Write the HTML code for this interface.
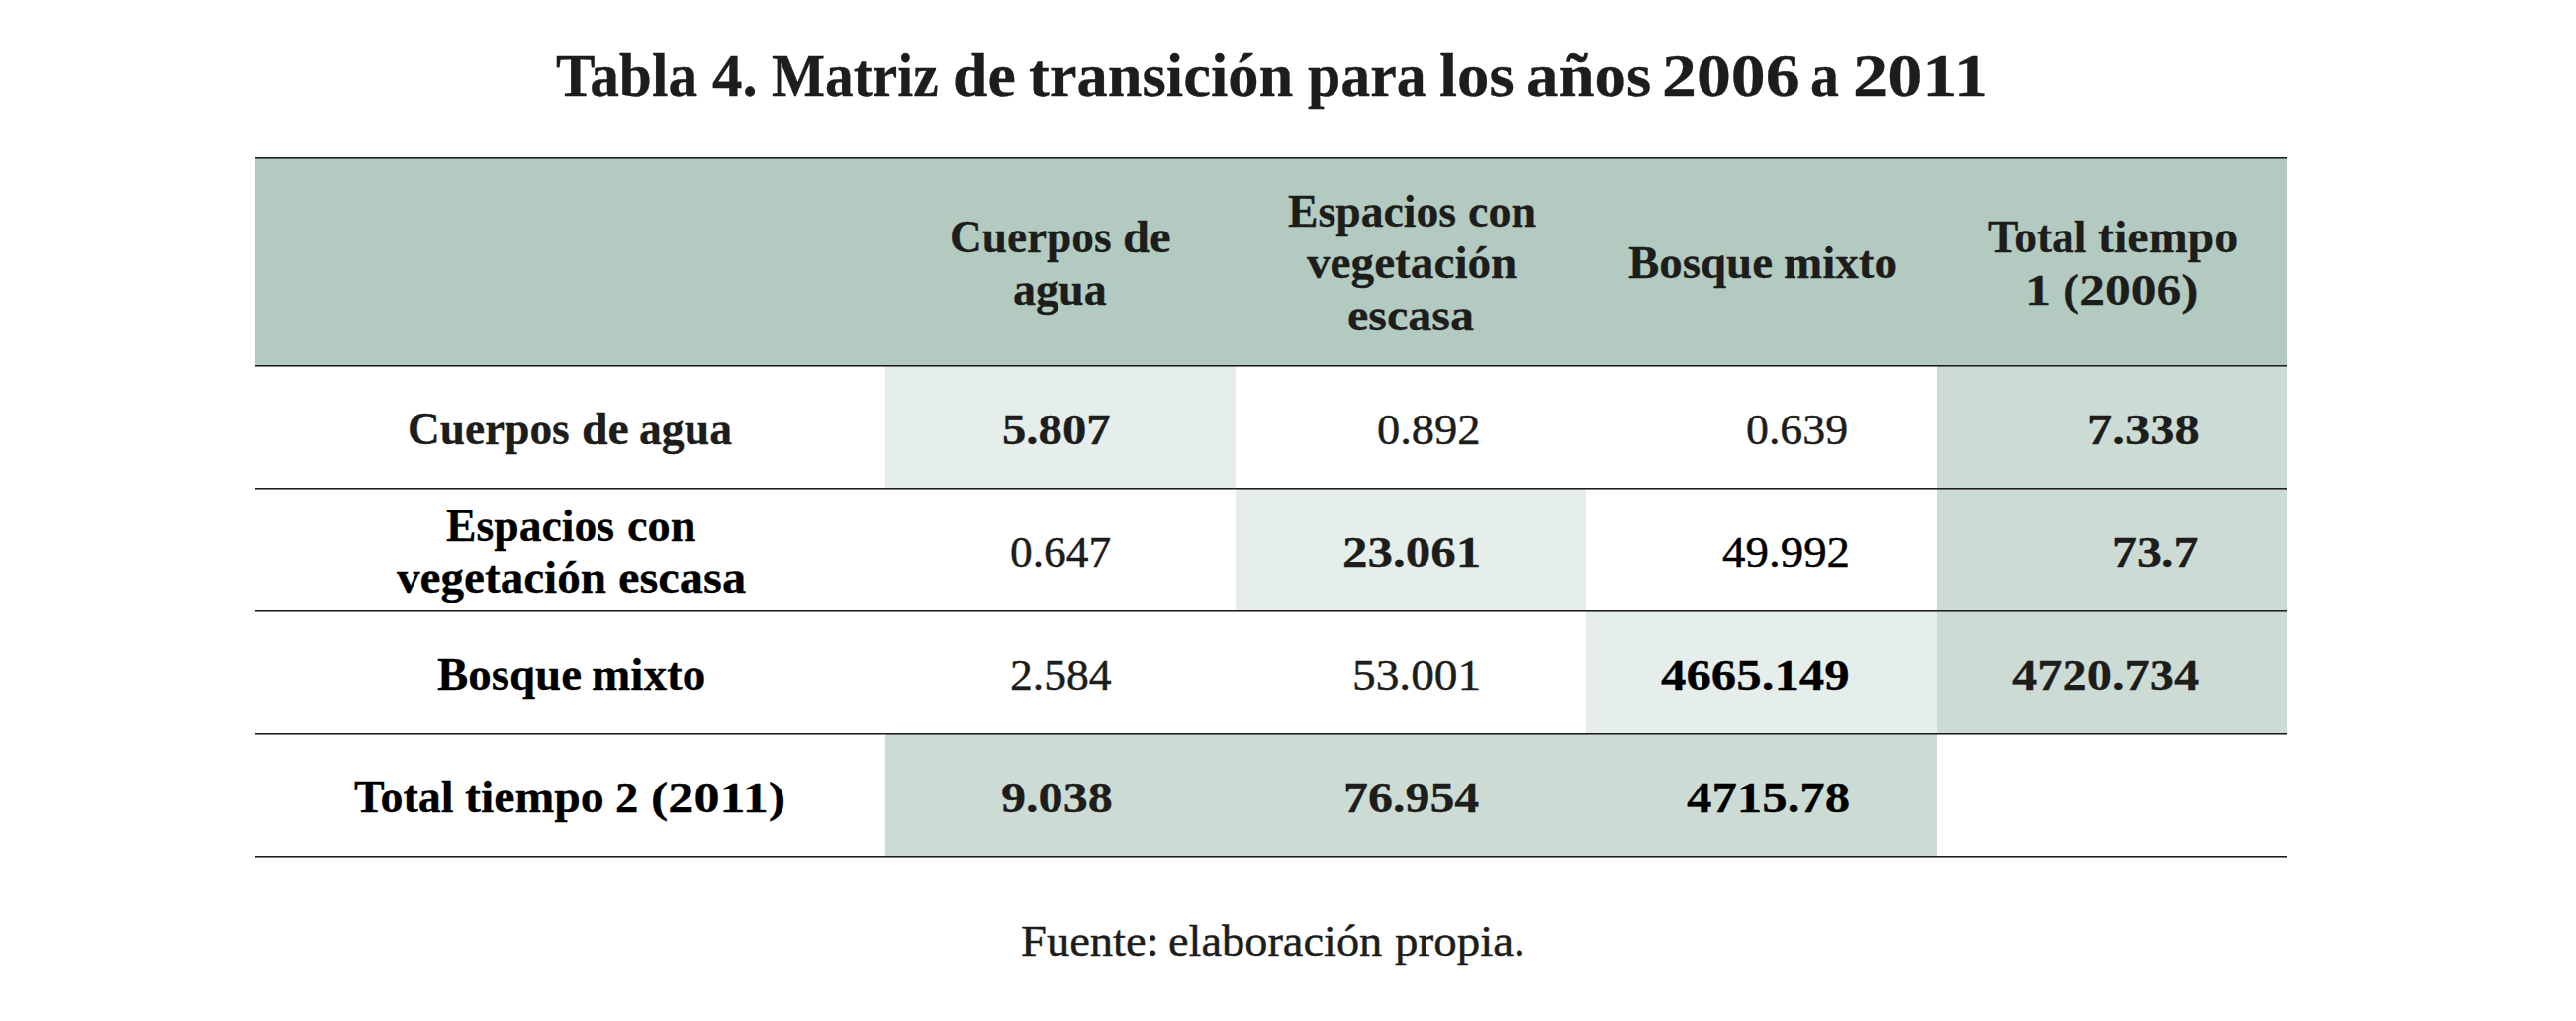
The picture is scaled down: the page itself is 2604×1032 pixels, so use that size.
<!DOCTYPE html>
<html lang="es">
<head>
<meta charset="utf-8">
<title>Tabla 4. Matriz de transición para los años 2006 a 2011</title>
<style>
html,body{margin:0;padding:0;background:#fff;}
body{width:2604px;height:1032px;position:relative;overflow:hidden;font-family:"Liberation Serif",serif;}
h1,p,div{margin:0;padding:0;font-size:0;font-weight:normal;}
.bg{position:absolute;}
.ln{position:absolute;left:258px;width:2054px;height:2px;background:linear-gradient(to bottom,#1d1d1b 0,#1d1d1b 1px,rgba(29,29,27,.55) 1px,rgba(29,29,27,.55) 2px);}
.t{position:absolute;white-space:nowrap;line-height:1;font-kerning:normal;transform-origin:0 0;}
.b{font-weight:bold;-webkit-text-stroke:0.3px currentColor;}
.r{-webkit-text-stroke:0.45px currentColor;}
</style>
</head>
<body>
<div class="bg" style="left:258px;top:160px;width:2054px;height:210px;background:#b3cac0"></div>
<div class="bg" style="left:895px;top:370px;width:354px;height:124px;background:#e5eeea"></div>
<div class="bg" style="left:1249px;top:494px;width:354px;height:124px;background:#e5eeea"></div>
<div class="bg" style="left:1603px;top:618px;width:355px;height:124px;background:#e5eeea"></div>
<div class="bg" style="left:1958px;top:370px;width:354px;height:372px;background:#ccdbd4"></div>
<div class="bg" style="left:895px;top:742px;width:1063px;height:124px;background:#ccdbd4"></div>
<div class="ln" style="top:159px"></div>
<div class="ln" style="top:369px"></div>
<div class="ln" style="top:493px"></div>
<div class="ln" style="top:617px"></div>
<div class="ln" style="top:741px"></div>
<div class="ln" style="top:865px"></div>
<h1><span id="t0" class="t b" style="left:562.00px;top:45.07px;font-size:62px;color:#1d1d1b;transform:scaleX(0.9580)">Tabla</span> <span id="t1" class="t b" style="left:720.00px;top:45.07px;font-size:62px;color:#1d1d1b;transform:scaleX(0.9831)">4.</span> <span id="t2" class="t b" style="left:780.00px;top:45.07px;font-size:62px;color:#1d1d1b;transform:scaleX(0.9244)">Matriz</span> <span id="t3" class="t b" style="left:962.50px;top:45.07px;font-size:62px;color:#1d1d1b;transform:scaleX(1.0272)">de</span> <span id="t4" class="t b" style="left:1040.00px;top:45.07px;font-size:62px;color:#1d1d1b;transform:scaleX(1.0076)">transición</span> <span id="t5" class="t b" style="left:1321.50px;top:45.07px;font-size:62px;color:#1d1d1b;transform:scaleX(0.9644)">para</span> <span id="t6" class="t b" style="left:1455.00px;top:45.07px;font-size:62px;color:#1d1d1b;transform:scaleX(1.0455)">los</span> <span id="t7" class="t b" style="left:1543.00px;top:45.07px;font-size:62px;color:#1d1d1b;transform:scaleX(1.0476)">años</span> <span id="t8" class="t b" style="left:1680.00px;top:45.07px;font-size:62px;color:#1d1d1b;transform:scaleX(1.1258)">2006</span> <span id="t9" class="t b" style="left:1830.00px;top:45.07px;font-size:62px;color:#1d1d1b;transform:scaleX(0.9333)">a</span> <span id="t10" class="t b" style="left:1872.50px;top:45.07px;font-size:62px;color:#1d1d1b;transform:scaleX(1.1346)">2011</span></h1>
<div><span id="t11" class="t b" style="left:959.50px;top:216.78px;font-size:46px;color:#1d1d1b;transform:scaleX(0.9843)">Cuerpos</span> <span id="t12" class="t b" style="left:1135.00px;top:216.78px;font-size:46px;color:#1d1d1b;transform:scaleX(1.0579)">de</span> <span id="t13" class="t b" style="left:1024.00px;top:270.08px;font-size:46px;color:#1d1d1b;transform:scaleX(1.0010)">agua</span></div>
<div><span id="t14" class="t b" style="left:1301.50px;top:191.28px;font-size:46px;color:#1d1d1b;transform:scaleX(0.9934)">Espacios</span> <span id="t15" class="t b" style="left:1484.00px;top:191.28px;font-size:46px;color:#1d1d1b;transform:scaleX(1.0009)">con</span> <span id="t16" class="t b" style="left:1320.50px;top:242.58px;font-size:46px;color:#1d1d1b;transform:scaleX(1.0263)">vegetación</span> <span id="t17" class="t b" style="left:1362.00px;top:296.28px;font-size:46px;color:#1d1d1b;transform:scaleX(1.0444)">escasa</span></div>
<div><span id="t18" class="t b" style="left:1646.00px;top:242.88px;font-size:46px;color:#1d1d1b;transform:scaleX(1.0195)">Bosque</span> <span id="t19" class="t b" style="left:1803.00px;top:242.88px;font-size:46px;color:#1d1d1b;transform:scaleX(1.0229)">mixto</span></div>
<div><span id="t20" class="t b" style="left:2009.50px;top:216.78px;font-size:46px;color:#1d1d1b;transform:scaleX(0.9888)">Total</span> <span id="t21" class="t b" style="left:2121.00px;top:216.78px;font-size:46px;color:#1d1d1b;transform:scaleX(1.0436)">tiempo</span> <span id="t22" class="t b" style="left:2047.00px;top:272.45px;font-size:44px;color:#1d1d1b;transform:scaleX(1.1813)">1</span> <span id="t23" class="t b" style="left:2085.00px;top:272.45px;font-size:44px;color:#1d1d1b;transform:scaleX(1.1717)">(2006)</span></div>
<div><span id="t24" class="t b" style="left:412.00px;top:411.08px;font-size:46px;color:#1d1d1b;transform:scaleX(0.9856)">Cuerpos</span> <span id="t25" class="t b" style="left:587.50px;top:411.08px;font-size:46px;color:#1d1d1b;transform:scaleX(1.0393)">de</span> <span id="t26" class="t b" style="left:645.50px;top:411.08px;font-size:46px;color:#1d1d1b;transform:scaleX(0.9942)">agua</span></div>
<div><span id="t27" class="t b" style="left:1013.00px;top:413.45px;font-size:44px;color:#1d1d1b;transform:scaleX(1.1076)">5.807</span></div>
<div><span id="t28" class="t r" style="left:1392.00px;top:413.45px;font-size:44px;color:#1d1d1b;transform:scaleX(1.0563)">0.892</span></div>
<div><span id="t29" class="t r" style="left:1765.00px;top:413.45px;font-size:44px;color:#1d1d1b;transform:scaleX(1.0416)">0.639</span></div>
<div><span id="t30" class="t b" style="left:2110.00px;top:413.45px;font-size:44px;color:#1d1d1b;transform:scaleX(1.1479)">7.338</span></div>
<div><span id="t31" class="t b" style="left:451.00px;top:509.07px;font-size:46px;color:#000000;transform:scaleX(0.9934)">Espacios</span> <span id="t32" class="t b" style="left:633.50px;top:509.07px;font-size:46px;color:#000000;transform:scaleX(1.0072)">con</span> <span id="t33" class="t b" style="left:400.50px;top:561.27px;font-size:46px;color:#000000;transform:scaleX(1.0243)">vegetación</span> <span id="t34" class="t b" style="left:625.00px;top:561.27px;font-size:46px;color:#000000;transform:scaleX(1.0528)">escasa</span></div>
<div><span id="t35" class="t r" style="left:1020.50px;top:537.45px;font-size:44px;color:#1d1d1b;transform:scaleX(1.0321)">0.647</span></div>
<div><span id="t36" class="t b" style="left:1357.00px;top:537.45px;font-size:44px;color:#1d1d1b;transform:scaleX(1.1591)">23.061</span></div>
<div><span id="t37" class="t r" style="left:1741.00px;top:537.45px;font-size:44px;color:#000000;transform:scaleX(1.0668)">49.992</span></div>
<div><span id="t38" class="t b" style="left:2135.00px;top:537.45px;font-size:44px;color:#1d1d1b;transform:scaleX(1.1350)">73.7</span></div>
<div><span id="t39" class="t b" style="left:442.00px;top:659.07px;font-size:46px;color:#000000;transform:scaleX(1.0195)">Bosque</span> <span id="t40" class="t b" style="left:598.00px;top:659.07px;font-size:46px;color:#000000;transform:scaleX(1.0266)">mixto</span></div>
<div><span id="t41" class="t r" style="left:1020.50px;top:661.45px;font-size:44px;color:#1d1d1b;transform:scaleX(1.0367)">2.584</span></div>
<div><span id="t42" class="t r" style="left:1366.50px;top:661.45px;font-size:44px;color:#1d1d1b;transform:scaleX(1.0760)">53.001</span></div>
<div><span id="t43" class="t b" style="left:1679.00px;top:661.45px;font-size:44px;color:#000000;transform:scaleX(1.1559)">4665.149</span></div>
<div><span id="t44" class="t b" style="left:2034.00px;top:661.45px;font-size:44px;color:#1d1d1b;transform:scaleX(1.1472)">4720.734</span></div>
<div><span id="t45" class="t b" style="left:358.00px;top:783.27px;font-size:46px;color:#000000;transform:scaleX(1.0004)">Total</span> <span id="t46" class="t b" style="left:470.00px;top:783.27px;font-size:46px;color:#000000;transform:scaleX(1.0388)">tiempo</span> <span id="t47" class="t b" style="left:621.50px;top:784.65px;font-size:44px;color:#000000;transform:scaleX(1.0590)">2</span> <span id="t48" class="t b" style="left:658.00px;top:784.65px;font-size:44px;color:#000000;transform:scaleX(1.1858)">(2011)</span></div>
<div><span id="t49" class="t b" style="left:1012.00px;top:784.65px;font-size:44px;color:#1d1d1b;transform:scaleX(1.1395)">9.038</span></div>
<div><span id="t50" class="t b" style="left:1357.50px;top:784.65px;font-size:44px;color:#1d1d1b;transform:scaleX(1.1350)">76.954</span></div>
<div><span id="t51" class="t b" style="left:1704.50px;top:784.65px;font-size:44px;color:#000000;transform:scaleX(1.1550)">4715.78</span></div>
<p><span id="t52" class="t r" style="left:1031.50px;top:929.85px;font-size:44px;color:#1d1d1b;transform:scaleX(1.0579)">Fuente:</span> <span id="t53" class="t r" style="left:1180.50px;top:929.85px;font-size:44px;color:#1d1d1b;transform:scaleX(1.0539)">elaboración</span> <span id="t54" class="t r" style="left:1410.00px;top:929.85px;font-size:44px;color:#1d1d1b;transform:scaleX(1.0685)">propia.</span></p>
</body>
</html>
